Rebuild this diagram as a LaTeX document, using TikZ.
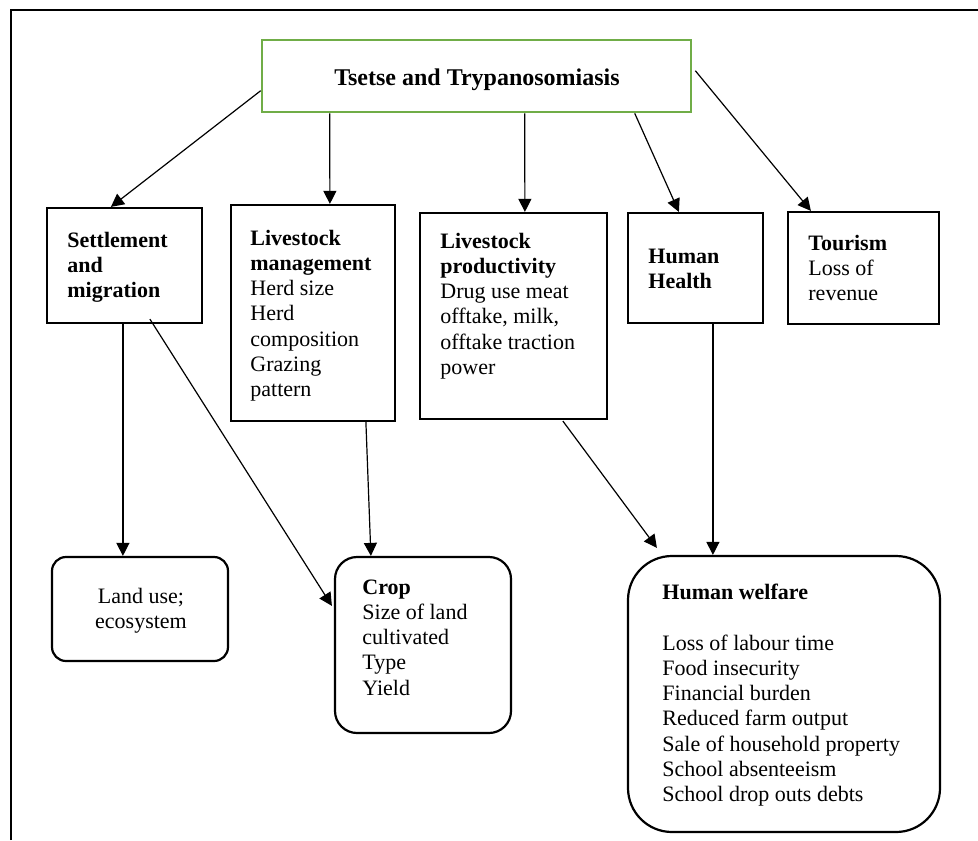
\documentclass[tikz,border=0pt]{standalone}
\usepackage{fontspec}
\setmainfont{Liberation Serif}
\usetikzlibrary{arrows.meta,fit,calc}
\definecolor{tgreen}{RGB}{112,173,71}
\begin{document}
\begin{tikzpicture}[x=0.5pt,y=-0.5pt,
  box/.style={draw=black, line width=1.1pt, inner sep=0pt},
  rbox/.style={box, rounded corners=#1},
  greenbox/.style={draw=tgreen, line width=1.3pt, inner sep=0pt},
  lbl/.style={anchor=base west, align=left, inner sep=0pt, font=\fontsize{11}{12.65}\selectfont},
  clbl/.style={lbl, anchor=base, align=center},
  arr/.style={-{Triangle[length=6.5pt,width=6.5pt]}, line width=0.6pt},
]
\useasboundingbox (0,0) rectangle (978,840);
\fill[white] (0,0) rectangle (978,840);
% outer frame (only top and left edges fall inside the picture)
\draw[line width=1pt] (11,840) -- (11,10) -- (978,10);

% boxes
\node[greenbox, fit={(262,40) (691,112)}] (top) {};
\node[box, fit={(47,208) (202,323)}] (sett) {};
\node[box, fit={(231,205) (395,421)}] (lm) {};
\node[box, fit={(420,213) (607,419)}] (lp) {};
\node[box, fit={(628,213) (763,323)}] (hh) {};
\node[box, fit={(788,212) (939,324)}] (tour) {};
\node[rbox=7pt, fit={(52,557) (228,661)}] (land) {};
\node[rbox=11pt, fit={(335,557) (511,733)}] (crop) {};
\node[rbox=22pt, fit={(628,556) (940,832)}] (hw) {};

% texts (base anchor = baseline of the last line)
\node[clbl, font=\fontsize{12}{14}\selectfont\bfseries] (ttop) at (477,85) {Tsetse and Trypanosomiasis};
\node[lbl] (tsett) at (67,297.6) {\textbf{Settlement}\\\textbf{and}\\\textbf{migration}};
\node[lbl] (tlm) at (250,396.8) {\textbf{Livestock}\\\textbf{management}\\Herd size\\Herd\\composition\\Grazing\\pattern};
\node[lbl] (tlp) at (440,374.5) {\textbf{Livestock}\\\textbf{productivity}\\Drug use meat\\offtake, milk,\\offtake traction\\power};
\node[lbl] (thh) at (648,288.3) {\textbf{Human}\\\textbf{Health}};
\node[lbl] (ttour) at (808,300.6) {\textbf{Tourism}\\Loss of\\revenue};
\node[clbl] (tland) at (141,628.3) {Land use;\\ecosystem};
\node[lbl] (tcrop) at (362,695.2) {\textbf{Crop}\\Size of land\\cultivated\\Type\\Yield};
\node[lbl] (thwh) at (662,599) {\textbf{Human welfare}};
\node[lbl] (thw) at (662,801.8) {Loss of labour time\\Food insecurity\\Financial burden\\Reduced farm output\\Sale of household property\\School absenteeism\\School drop outs debts};

% connectors
\draw[arr] ($(top.north west)+(0,52)$) -- ($(sett.north west)+(65,0)$);
\draw[arr] ($(top.south west)+(69,0)$) -- ($(lm.north west)+(100,0)$);
\draw[arr] ($(top.south west)+(264,0)$) -- ($(lp.north west)+(106,0)$);
\draw[arr] ($(top.south west)+(374,0)$) -- ($(hh.north west)+(52,0)$);
\draw[arr] ($(top.north east)+(3,32)$) -- ($(tour.north west)+(24,0)$);
\draw[arr] ($(sett.south west)+(77,0)$) -- ($(land.north west)+(72,0)$);
\draw[arr] ($(sett.south west)+(104,-5)$) -- ($(crop.north west)+(-2,50)$);
\draw[arr] ($(lm.south west)+(136,0)$) -- ($(crop.north west)+(37,0)$);
\draw[arr] ($(lp.south west)+(144,1)$) -- ($(hw.north west)+(30,-7)$);
\draw[arr] ($(hh.south west)+(86,0)$) -- ($(hw.north west)+(86,0)$);
\end{tikzpicture}
\end{document}
